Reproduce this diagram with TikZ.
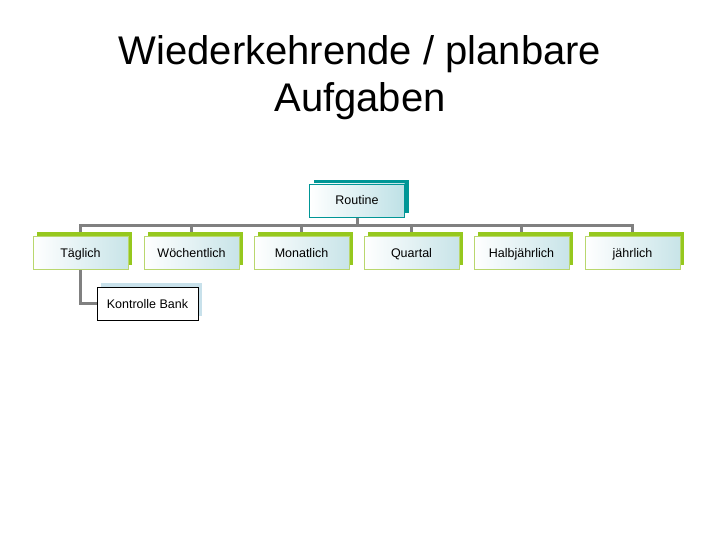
\documentclass[tikz,border=0pt]{standalone}
\usepackage{fontspec}
\setmainfont{Liberation Sans}
\usetikzlibrary{shadows,backgrounds}
\definecolor{routineteal}{RGB}{0,150,150}
\definecolor{routinefill}{RGB}{190,225,230}
\definecolor{leafgreen}{RGB}{150,200,30}
\definecolor{leafedge}{RGB}{185,215,110}
\definecolor{leaffill}{RGB}{200,228,232}
\definecolor{bankshadow}{RGB}{200,225,235}
\definecolor{linegray}{RGB}{128,128,128}

\begin{document}
\begin{tikzpicture}[x=1pt,y=-1pt]
        \tikzstyle{box}=[minimum height=33pt,inner sep=0pt,text height=10pt,text depth=1pt,font=\fontsize{12.5}{14}\selectfont]
        \tikzstyle{root}=[box,draw=routineteal,thick,left color=white,right color=routinefill,minimum width=95pt,copy shadow={shadow xshift=4pt,shadow yshift=4pt,draw=none,fill=routineteal}]
        \tikzstyle{period}=[box,draw=leafedge,thick,left color=white,right color=leaffill,minimum width=95pt,copy shadow={shadow xshift=4pt,shadow yshift=4pt,draw=none,fill=leafgreen}]
        \tikzstyle{task}=[box,draw=black,thick,fill=white,minimum width=101pt,copy shadow={shadow xshift=4pt,shadow yshift=4pt,draw=none,fill=bankshadow}]
        \tikzstyle{link}=[draw=linegray,line width=3pt]

       \useasboundingbox (0,0) rectangle (720,540);

       \node [font=\fontsize{40}{47}\selectfont,align=center] (title) at (360,78) {Wiederkehrende / planbare\\Aufgaben};

       \begin{scope}

         \node [root] (routine) at (357,200.5) {Routine};

         \node [period] (d1) at (80.5,252.5) {Täglich};
         \node [period] (d2) at (191.5,252.5) {Wöchentlich};
         \node [period] (d3) at (301.5,252.5) {Monatlich};
         \node [period] (d4) at (411.5,252.5) {Quartal};
         \node [period] (d5) at (521.5,252.5) {Halbjährlich};
         \node [period] (d6) at (632.5,252.5) {jährlich};

         \node [task] (bank) at (147.5,303.5) {Kontrolle Bank};

         \begin{pgfonlayer}{background}
         \foreach \d in {d1,d2,d3,d4,d5,d6}
           \path[link] (routine.south) -- ++(0,8) -| (\d.north);
         \path[link] (d1.south) |- (bank.west);
         \end{pgfonlayer}

        \end{scope}
      \end{tikzpicture}
\end{document}
